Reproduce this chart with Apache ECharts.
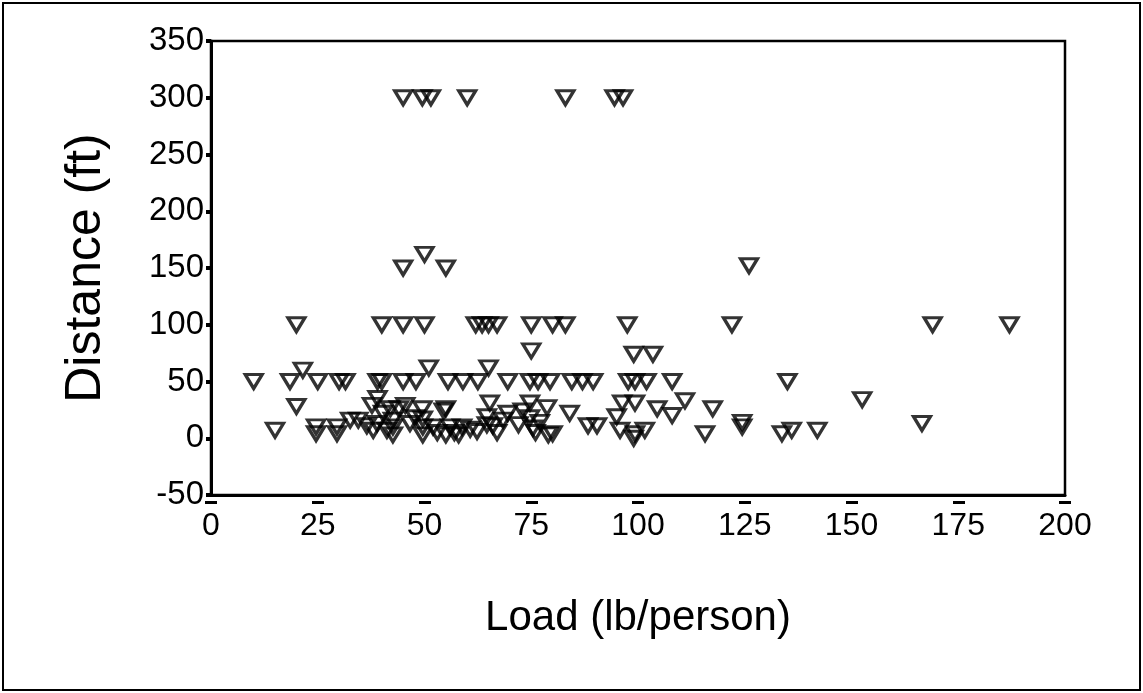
<!DOCTYPE html>
<html>
<head>
<meta charset="utf-8">
<script src="https://cdn.jsdelivr.net/npm/echarts@6/dist/echarts.min.js"></script>
<style>
html,body{margin:0;padding:0;background:#fff;}
#chart{width:1143px;height:693px;}
</style>
</head>
<body>
<div id="chart"></div>
<script>
// Load (lb/person) values
const loads = [
  45,49.5,51.5,60,83,94.5,96.5,
  45,50,55,126,
  20,40,45,50,62,63.5,65,67,75,80,83,97.5,122,169,187,
  75,99,103.5,
  21.5,51,65,
  10,18.5,25,30,31.5,39,40,45,48,55.5,59,62.5,69.5,74.7,76.6,79.4,84.5,87,89.5,97.7,99.3,102,108,135,
  20,37.7,39,42,44,45.5,49.5,54.5,55,65.3,73,74.7,78.7,84,95,96.3,99.3,104.5,108,111,117.5,152.5,
  15,24.6,24.6,29.5,29.5,32.6,34.5,36.5,38,38.9,40.3,41.2,42.6,42.6,42.6,46.6,47.8,49.6,49.6,49.6,52,56,58.8,60.7,62.3,64.6,64.6,66,68.4,69.5,74.7,75.4,80,79,88.3,90.4,95.8,99.3,99,101.6,115.7,124.4,124.4,133.7,136,142,166.5,
  53,55,57,58,67,72,76,77
];
// Distance (ft) values
const distances = [
  300,300,300,300,300,300,300,
  150,162,150,152,
  100,100,100,100,100,100,100,100,100,100,100,100,100,100,100,
  77,74,74,
  60,62,62,
  50,50,50,50,50,50,50,50,50,50,50,50,50,50,50,50,50,50,50,50,50,50,50,50,
  28,29,35,26,26,29,26,24,26,31,24,31,27,22,19,31,31,26,20,33,26,34,
  7,10,4,10,4,16,16,11,7,13,22,7,16,3,10,13,18,3,10,17,10,10,10,8,6,19,12,11,16,22,18,9,4,3,11,11,7,4,0,7,4,10,14,4,7,7,13,
  5,3,5,3,5,12,5,14
];
const xTicks = [0,25,50,75,100,125,150,175,200];
const yTicks = [-50,0,50,100,150,200,250,300,350];

const points = loads.map((x,i)=>[x, distances[i]]);
const FONT = 'Liberation Sans, Arial, sans-serif';

const chart = echarts.init(document.getElementById('chart'), null, {renderer:'canvas'});
chart.setOption({
  backgroundColor:'#fff',
  animation:false,
  grid:{left:211, top:41, right:78, bottom:198, show:true, borderColor:'#000', borderWidth:2.5, backgroundColor:'transparent'},
  graphic:[{type:'rect', shape:{x:3,y:3,width:1137,height:687}, style:{fill:'none', stroke:'#000', lineWidth:2}, z:-1}],
  xAxis:[{
    type:'value', min:xTicks[0], max:xTicks[xTicks.length-1], interval:25,
    name:'Load (lb/person)', nameLocation:'middle', nameGap:102,
    nameTextStyle:{fontFamily:FONT, fontSize:42, color:'#000'},
    axisLine:{show:true, onZero:false, lineStyle:{color:'#000', width:3}},
    axisTick:{show:false},
    axisLabel:{fontFamily:FONT, fontSize:32, color:'#000', margin:15},
    splitLine:{show:false}
  },{
    type:'value', position:'bottom', offset:6, min:xTicks[0], max:xTicks[xTicks.length-1], interval:25,
    axisLine:{show:false, onZero:false}, axisLabel:{show:false}, splitLine:{show:false},
    axisTick:{show:true, length:3, lineStyle:{color:'#000', width:12}}
  }],
  yAxis:{
    type:'value', min:yTicks[0], max:yTicks[yTicks.length-1], interval:50,
    name:'Distance (ft)', nameLocation:'middle', nameGap:100,
    nameTextStyle:{fontFamily:FONT, fontSize:50, color:'#000'},
    axisLine:{show:true, onZero:false, lineStyle:{color:'#000', width:3}},
    axisTick:{show:true, length:5, lineStyle:{color:'#000', width:4}},
    axisLabel:{fontFamily:FONT, fontSize:33, color:'#000', margin:7},
    splitLine:{show:false}
  },
  series:[{
    type:'scatter', xAxisIndex:0, data:points,
    symbol:'triangle', symbolRotate:180, symbolSize:[17,14],
    itemStyle:{color:'rgba(0,0,0,0)', borderColor:'#000', borderWidth:3.2},
    emphasis:{disabled:true}
  }]
});
</script>
</body>
</html>
